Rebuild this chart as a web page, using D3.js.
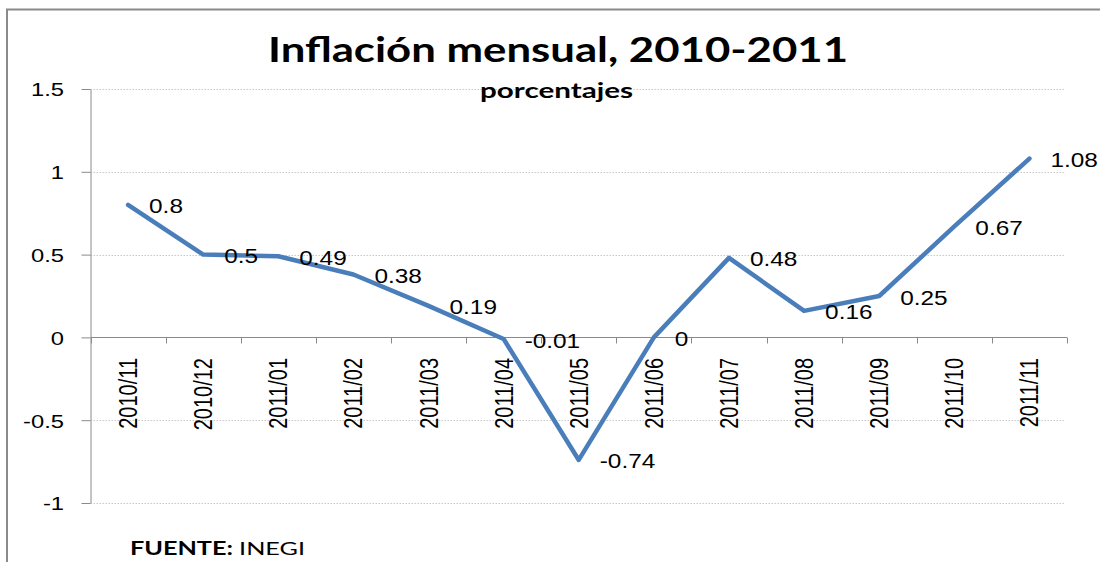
<!DOCTYPE html>
<html>
<head>
<meta charset="utf-8">
<script src="https://cdn.jsdelivr.net/npm/d3@7"></script>
<style>
  html, body { margin: 0; padding: 0; background: #fff; overflow: hidden; }
</style>
</head>
<body>
<svg id="chart"></svg>
<script>
const categories = ['2010/11', '2010/12', '2011/01', '2011/02', '2011/03', '2011/04', '2011/05',
    '2011/06', '2011/07', '2011/08', '2011/09', '2011/10', '2011/11'];
const inflation = [0.8, 0.5, 0.49, 0.38, 0.19, -0.01, -0.74, 0, 0.48, 0.16, 0.25, 0.67, 1.08];
const yTicks = [-1, -0.5, 0, 0.5, 1, 1.5];
const yTickLabels = ['-1', '-0.5', '0', '0.5', '1', '1.5'];
const dataLabels = ['0.8', '0.5', '0.49', '0.38', '0.19', '-0.01', '-0.74', '0', '0.48', '0.16', '0.25', '0.67', '1.08'];

class LineChart {

    constructor( config, data ) {
        this.config = {
            parent: config.parent,
            width: config.width || 1100,
            height: config.height || 562,
            margin: config.margin || {top:89, right:33, bottom:59, left:90.5},
            title: config.title || '',
            subtitle: config.subtitle || ''
        }
        this.data = data;
        this.init();
    }

    init() {
        let self = this;
        // the original picture is stretched sideways, so is the text
        self.stretch = 1.25;

        self.svg = d3.select( self.config.parent )
            .attr('width', self.config.width)
            .attr('height', self.config.height)
            .style('display', 'block');

        // chart frame, cut off on the right and at the bottom
        self.svg.append('rect')
            .attr('x', 7)
            .attr('y', 9.5)
            .attr('width', 1200)
            .attr('height', 700)
            .attr('fill', 'none')
            .attr('stroke', '#8a8a8a')
            .attr('stroke-width', 2);

        self.x = d3.scaleBand()
            .domain(categories)
            .range([self.config.margin.left, self.config.width - self.config.margin.right])
            .padding(0);

        self.y = d3.scaleLinear()
            .domain([-1, 1.5])
            .range([self.config.height - self.config.margin.bottom, self.config.margin.top]);

        self.title = self.svg.append('text')
            .attr('x', 558)
            .attr('y', 62)
            .attr('text-anchor', 'middle')
            .style('font-family', 'Lato, "Open Sans", sans-serif')
            .style('font-size', '35px')
            .style('font-weight', 'bold')
            .attr('fill', '#000')
            .text( self.config.title );
        self.fit(self.title, 580);
    }

    fit( sel, w ) {
        sel.attr('textLength', w).attr('lengthAdjust', 'spacingAndGlyphs');
    }

    update() {
        let self = this;

        self.line = d3.line()
            .x(d => self.x(d.label) + self.x.bandwidth() / 2)
            .y(d => self.y(d.value));

        self.render();
    }

    render() {
        let self = this;
        const x0 = self.x.range()[0], x1 = self.x.range()[1];

        // dotted gridlines
        self.svg.append('g')
            .selectAll('line')
            .data(yTicks.filter(d => d !== 0))
            .join('line')
            .attr('x1', x0)
            .attr('x2', x1 - 2)
            .attr('y1', d => Math.round(self.y(d)) + 0.5)
            .attr('y2', d => Math.round(self.y(d)) + 0.5)
            .attr('stroke', '#c8c8c8')
            .attr('stroke-width', 1)
            .attr('stroke-dasharray', '1.5,1.5');

        // subtitle sits on top of the 1.5 gridline
        const sub = self.svg.append('text')
            .attr('x', 556.5)
            .attr('y', 98)
            .attr('text-anchor', 'middle')
            .style('font-family', 'Lato, "Open Sans", sans-serif')
            .style('font-size', '21px')
            .style('font-weight', 'bold')
            .attr('fill', '#000')
            .text( self.config.subtitle );
        self.fit(sub, 153);

        // y axis
        const yAxis = self.svg.append('g')
            .attr('transform', `translate(${x0}, 0)`)
            .call(d3.axisLeft(self.y)
                .tickValues(yTicks)
                .tickFormat((d, i) => yTickLabels[i])
                .tickSize(9)
                .tickSizeOuter(0));
        yAxis.select('.domain').attr('stroke', '#8a8a8a');
        yAxis.selectAll('.tick line').attr('stroke', '#8a8a8a');
        yAxis.selectAll('.tick text')
            .attr('x', -26.5 / self.stretch)
            .attr('dy', '0.36em')
            .attr('transform', `scale(${self.stretch},1)`)
            .attr('fill', '#000')
            .style('font-family', '"Liberation Sans", Arial, sans-serif')
            .style('font-size', '19px');

        // x axis at zero, ticks on the band edges
        const zy = Math.round(self.y(0)) + 0.5;
        const xAxis = self.svg.append('g');
        xAxis.append('line')
            .attr('x1', x0).attr('x2', x1)
            .attr('y1', zy).attr('y2', zy)
            .attr('stroke', '#8a8a8a');
        xAxis.selectAll('.edge')
            .data(categories.map(c => self.x(c)).concat([x1]))
            .join('line')
            .attr('class', 'edge')
            .attr('x1', d => Math.round(d) + 0.5)
            .attr('x2', d => Math.round(d) + 0.5)
            .attr('y1', zy)
            .attr('y2', zy + 6)
            .attr('stroke', '#8a8a8a');
        xAxis.selectAll('.lab')
            .data(categories)
            .join('text')
            .attr('class', 'lab')
            .attr('text-anchor', 'end')
            .attr('dy', '0.36em')
            .attr('transform', d => `translate(${self.x(d) + self.x.bandwidth() / 2}, 358) scale(${self.stretch},1) rotate(-90)`)
            .attr('fill', '#000')
            .style('font-family', '"Liberation Sans", Arial, sans-serif')
            .style('font-size', '20px')
            .text(d => d);

        // the series
        self.svg.append('path')
            .datum(self.data)
            .attr('d', self.line)
            .attr('fill', 'none')
            .attr('stroke', '#4a7ebb')
            .attr('stroke-width', 4.5)
            .attr('stroke-linejoin', 'round')
            .attr('stroke-linecap', 'round');

        // value labels, to the right of each point
        self.svg.append('g')
            .selectAll('text')
            .data(self.data)
            .join('text')
            .attr('dy', '0.36em')
            .attr('transform', d => `translate(${self.x(d.label) + self.x.bandwidth() / 2 + 21}, ${self.y(d.value) + 1.5}) scale(${self.stretch},1)`)
            .attr('fill', '#000')
            .style('font-family', '"Liberation Sans", Arial, sans-serif')
            .style('font-size', '19.5px')
            .text(d => d.text);

        // source note
        const src = self.svg.append('text')
            .attr('x', 130)
            .attr('y', 555)
            .style('font-family', 'Lato, "Open Sans", sans-serif')
            .style('font-size', '18px')
            .attr('fill', '#000');
        src.append('tspan').style('font-weight', 'bold').text('FUENTE: ');
        src.append('tspan').text('INEGI');
        self.fit(src, 175);
    }
}

const series = categories.map((c, i) => ({ label: c, value: inflation[i], text: dataLabels[i] }));

const chart = new LineChart({
    parent: '#chart',
    width: 1100,
    height: 562,
    title: 'Inflación mensual, 2010-2011',
    subtitle: 'porcentajes'
}, series);
chart.update();
</script>
</body>
</html>
